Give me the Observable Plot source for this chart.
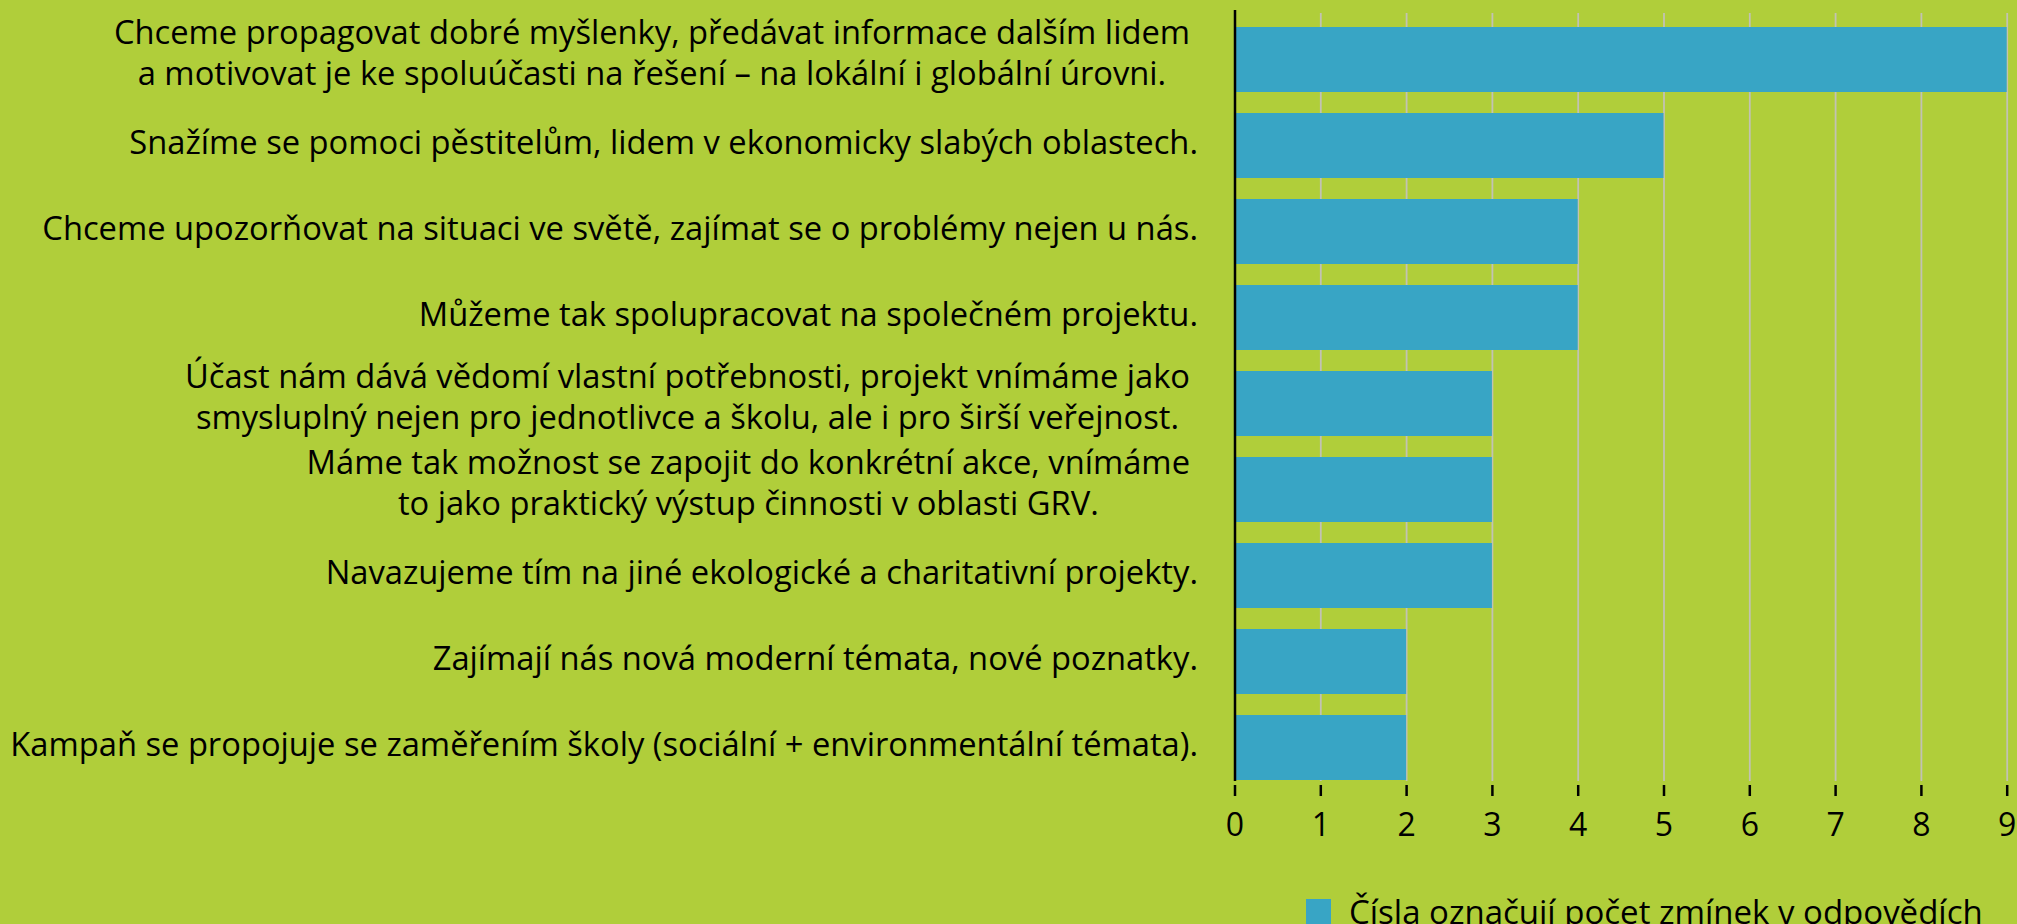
<!DOCTYPE html>
<html>
<head>
<meta charset="utf-8">
<script src="https://cdn.jsdelivr.net/npm/d3@7"></script>
<script src="https://cdn.jsdelivr.net/npm/@observablehq/plot@0.6"></script>
<style>
  html, body { margin: 0; padding: 0; background: #b0ce3a; overflow: hidden; }
  #chart svg { display: block; }
  #legend { padding-left: 1306px; margin-top: 13px; }
  #legend span { line-height: 37px !important; }
  #legend svg { margin-right: 18px !important; }
</style>
</head>
<body>
<div id="chart"></div>
<div id="legend"></div>
<script>
const categories = [
  "Chceme propagovat dobré myšlenky, předávat informace dalším lidem\na motivovat je ke spoluúčasti na řešení – na lokální i globální úrovni.",
  "Snažíme se pomoci pěstitelům, lidem v ekonomicky slabých oblastech.",
  "Chceme upozorňovat na situaci ve světě, zajímat se o problémy nejen u nás.",
  "Můžeme tak spolupracovat na společném projektu.",
  "Účast nám dává vědomí vlastní potřebnosti, projekt vnímáme jako\nsmysluplný nejen pro jednotlivce a školu, ale i pro širší veřejnost.",
  "Máme tak možnost se zapojit do konkrétní akce, vnímáme\nto jako praktický výstup činnosti v oblasti GRV.",
  "Navazujeme tím na jiné ekologické a charitativní projekty.",
  "Zajímají nás nová moderní témata, nové poznatky.",
  "Kampaň se propojuje se zaměřením školy (sociální + environmentální témata)."
];
const mentions = [9, 5, 4, 4, 3, 3, 3, 2, 2];
const xTicks = [0, 1, 2, 3, 4, 5, 6, 7, 8, 9];
const legendLabel = "Čísla označují počet zmínek v odpovědích";

const barColor = "#38a5c5";
const font = "'Open Sans', sans-serif";
const data = categories.map((c, i) => ({category: c, value: mentions[i]}));

const plot = Plot.plot({
  width: 2017,
  height: 880,
  marginLeft: 1234.5,
  marginRight: 10.3,
  marginTop: 26,
  marginBottom: 99,
  style: {background: "#b0ce3a", fontFamily: font, color: "black", overflow: "visible"},
  x: {domain: [0, 9], label: null},
  y: {domain: categories, paddingInner: 0.245, paddingOuter: 0, label: null},
  marks: [
    Plot.gridX(xTicks, {stroke: "#c2c2b4", strokeOpacity: 1, strokeWidth: 1.8, insetTop: -13}),
    Plot.barX(data, {y: "category", x: "value", fill: barColor}),
    Plot.ruleX([0], {stroke: "black", strokeWidth: 2.5, insetTop: -16}),
    Plot.axisX({ticks: xTicks, tickSize: 11, tickPadding: 16.5, dy: 4, fontSize: 32, strokeWidth: 2.5, stroke: "black", fill: "black", label: null, tickFormat: d => String(d)}),
    Plot.axisY({tickSize: 0, tickPadding: 37, dy: -5, fontSize: 32.7, lineHeight: 1.27, fill: "black", label: null, textOverflow: null, lineWidth: Infinity})
  ]
});
document.getElementById("chart").append(plot);

// Multi-line category labels: centre the lines on each other, block right-aligned
plot.querySelectorAll('g[aria-label="y-axis tick label"] text').forEach(t => {
  const spans = t.querySelectorAll("tspan");
  if (spans.length > 1) {
    const maxW = d3.max(Array.from(spans), s => s.getComputedTextLength());
    t.setAttribute("text-anchor", "middle");
    spans.forEach(s => s.setAttribute("x", -(8 + maxW / 2)));
    t.setAttribute("transform", (t.getAttribute("transform") || "") + " translate(0,-4)");
  }
});

const legend = Plot.legend({
  color: {domain: [legendLabel], range: [barColor]},
  legend: "swatches",
  swatchSize: 25,
  style: {fontSize: "33px", fontFamily: font, color: "black", margin: 0}
});
document.getElementById("legend").append(legend);
</script>
</body>
</html>
